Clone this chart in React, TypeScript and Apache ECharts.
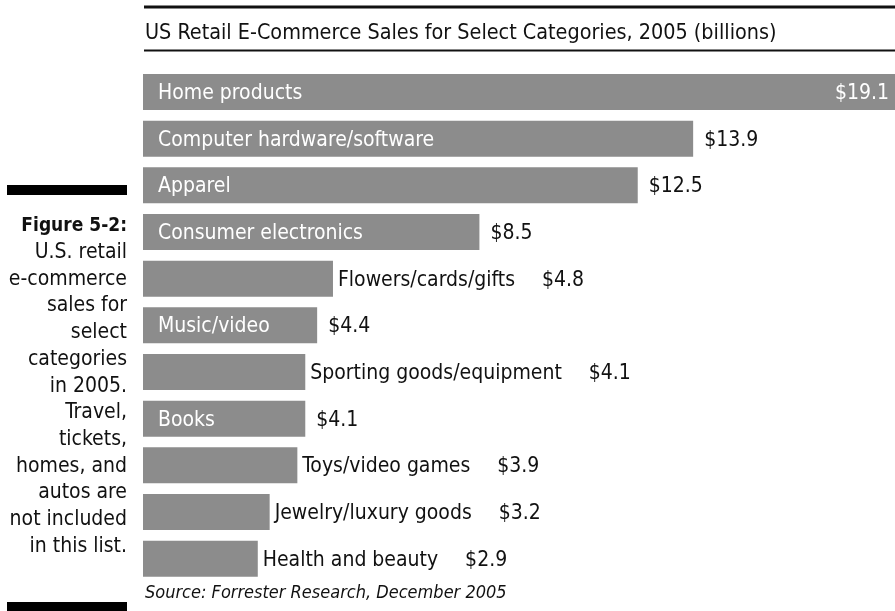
import React, { useEffect, useRef } from "react";
import * as echarts from "echarts";

const categories = [
  "Home products",
  "Computer hardware/software",
  "Apparel",
  "Consumer electronics",
  "Flowers/cards/gifts",
  "Music/video",
  "Sporting goods/equipment",
  "Books",
  "Toys/video games",
  "Jewelry/luxury goods",
  "Health and beauty",
];
const sales = [19.1, 13.9, 12.5, 8.5, 4.8, 4.4, 4.1, 4.1, 3.9, 3.2, 2.9];
const nameInBar = [true, true, true, true, false, true, false, true, false, false, false];

const title = "US Retail E-Commerce Sales for Select Categories, 2005 (billions)";
const source = "Source: Forrester Research, December 2005";
const captionHead = "Figure 5-2:";
const captionLines = [
  "U.S. retail",
  "e-commerce",
  "sales for",
  "select",
  "categories",
  "in 2005.",
  "Travel,",
  "tickets,",
  "homes, and",
  "autos are",
  "not included",
  "in this list.",
];

const FONT = "'Liberation Sans Narrow', 'DejaVu Sans Condensed', Roboto, sans-serif";
const BAR = "#8c8c8c";
const INK = "#111111";
const LABEL_SIZE = 21;

export default function App() {
  const ref = useRef<HTMLDivElement>(null);
  useEffect(() => {
    if (!ref.current) return;
    const chart = echarts.init(ref.current, undefined, { renderer: "svg" });
    const maxVal = Math.max(...sales);
    const fmt = (v: number) => "$" + v.toFixed(1);

    const mainData = sales.map((v, i) => ({
      value: v,
      label: nameInBar[i]
        ? {
            show: true,
            position: "insideLeft",
            distance: 15,
            color: "#ffffff",
            fontFamily: FONT,
            fontSize: LABEL_SIZE,
            formatter: categories[i],
          }
        : {
            show: true,
            position: "right",
            distance: 5,
            color: INK,
            fontFamily: FONT,
            fontSize: LABEL_SIZE,
            formatter: "{n|" + categories[i] + "}{v|" + fmt(v) + "}",
            rich: {
              n: { fontFamily: FONT, fontSize: LABEL_SIZE, color: INK },
              v: { fontFamily: FONT, fontSize: LABEL_SIZE, color: INK, padding: [0, 0, 0, 27] },
            },
          },
    }));

    const valueData = sales.map((v, i) => ({
      value: v,
      label: !nameInBar[i]
        ? { show: false }
        : v === maxVal
        ? {
            show: true,
            position: "insideRight",
            distance: 6,
            color: "#ffffff",
            fontFamily: FONT,
            fontSize: LABEL_SIZE,
            formatter: fmt(v),
          }
        : {
            show: true,
            position: "right",
            distance: 11,
            color: INK,
            fontFamily: FONT,
            fontSize: LABEL_SIZE,
            formatter: fmt(v),
          },
    }));

    const captionElems: any[] = [
      {
        type: "text",
        style: {
          x: 127,
          y: 224,
          text: captionHead,
          align: "right",
          verticalAlign: "middle",
          fontFamily: FONT,
          fontSize: 19,
          fontWeight: "bold",
          fill: INK,
        },
      },
      ...captionLines.map((t, i) => ({
        type: "text",
        style: {
          x: 127,
          y: 251 + i * 26.7,
          text: t,
          align: "right",
          verticalAlign: "middle",
          fontFamily: FONT,
          fontSize: 21,
          fill: INK,
        },
      })),
    ];

    chart.setOption({
      animation: false,
      grid: { left: 143, right: 0, top: 68.7, bottom: 29 },
      xAxis: { type: "value", min: 0, max: 19, show: false },
      yAxis: { type: "category", data: categories, inverse: true, show: false },
      series: [
        {
          type: "bar",
          data: mainData,
          barWidth: 36,
          barGap: "-100%",
          itemStyle: { color: BAR },
          silent: true,
        },
        {
          type: "bar",
          data: valueData,
          barWidth: 36,
          barGap: "-100%",
          itemStyle: { color: "rgba(0,0,0,0)" },
          silent: true,
          z: 3,
        },
      ],
      graphic: [
        {
          type: "line",
          shape: { x1: 144, y1: 7, x2: 895, y2: 7 },
          style: { stroke: INK, lineWidth: 3 },
        },
        {
          type: "line",
          shape: { x1: 144, y1: 50.5, x2: 895, y2: 50.5 },
          style: { stroke: INK, lineWidth: 2 },
        },
        {
          type: "text",
          style: {
            x: 145,
            y: 31,
            text: title,
            align: "left",
            verticalAlign: "middle",
            fontFamily: FONT,
            fontSize: 21.4,
            fill: INK,
          },
        },
        {
          type: "text",
          style: {
            x: 145,
            y: 591,
            text: source,
            align: "left",
            verticalAlign: "middle",
            fontFamily: FONT,
            fontSize: 18,
            fontStyle: "italic",
            fill: INK,
          },
        },
        {
          type: "rect",
          shape: { x: 7, y: 185, width: 120, height: 10 },
          style: { fill: "#000000" },
        },
        {
          type: "rect",
          shape: { x: 7, y: 602, width: 120, height: 10 },
          style: { fill: "#000000" },
        },
        ...captionElems,
      ],
    });
    return () => chart.dispose();
  }, []);
  return (
    <div
      ref={ref}
      style={{ position: "fixed", left: 0, top: 0, width: 895, height: 611 }}
    />
  );
}
